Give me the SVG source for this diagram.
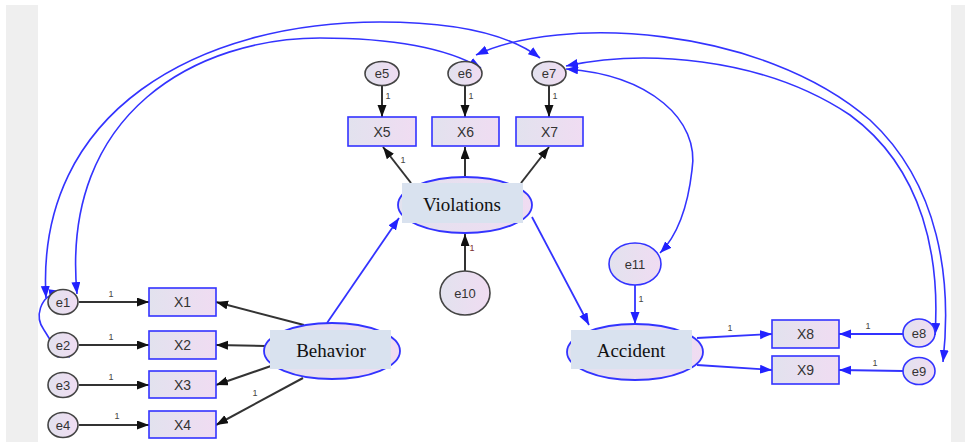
<svg xmlns="http://www.w3.org/2000/svg" width="965" height="442" viewBox="0 0 965 442">
<style>
.bk{stroke:#333;stroke-width:2;fill:none;marker-end:url(#ak)}
.bl{stroke:#3333ff;stroke-width:1.8;fill:none;marker-end:url(#ab)}
.cv{stroke:#3333ff;stroke-width:1.6;fill:none;marker-start:url(#ab);marker-end:url(#ab)}
.eg{fill:url(#gf);stroke:#444;stroke-width:1.6}
.eb{fill:url(#gf);stroke:#3333ff;stroke-width:1.6}
.bx{fill:url(#gf);stroke:#3333ff;stroke-width:1.6}
.lat{fill:url(#gf);stroke:#3333ff;stroke-width:1.8}
.lr{fill:#d9e2ef}
.t{font-family:"Liberation Sans",Arial,sans-serif;font-size:13px;fill:#333;text-anchor:middle;dominant-baseline:central}
.tx{font-family:"Liberation Sans",Arial,sans-serif;font-size:14px;fill:#333;text-anchor:middle;dominant-baseline:central}
.one{font-family:"Liberation Sans",Arial,sans-serif;font-size:9px;fill:#444;text-anchor:middle}
.lt{font-family:"Liberation Serif","Times New Roman",serif;font-size:19px;fill:#111;text-anchor:middle;dominant-baseline:central}
</style>
<defs>
<linearGradient id="gf" x1="0" y1="0" x2="1" y2="0">
<stop offset="0" stop-color="#e2e2ee"/>
<stop offset="1" stop-color="#f0dcf2"/>
</linearGradient>
<marker id="ak" markerUnits="userSpaceOnUse" markerWidth="13" markerHeight="10" refX="12" refY="4.5" orient="auto-start-reverse">
<path d="M0,0 L12,4.5 L0,9 z" fill="#111"/>
</marker>
<marker id="ab" markerUnits="userSpaceOnUse" markerWidth="13" markerHeight="10" refX="12" refY="4.5" orient="auto-start-reverse">
<path d="M0,0 L12,4.5 L0,9 z" fill="#2222ff"/>
</marker>
</defs>
<rect x="0" y="0" width="965" height="442" fill="#ffffff"/>
<rect x="6" y="5" width="32" height="437" fill="#efefef"/>
<rect x="951" y="5" width="14" height="437" fill="#efefef"/>

<g id="connectors">
<line class="bk" x1="79" y1="302" x2="149" y2="302"/>
<line class="bk" x1="79" y1="345" x2="149" y2="345"/>
<line class="bk" x1="79" y1="385" x2="149" y2="385"/>
<line class="bk" x1="79" y1="425" x2="149" y2="425"/>
<text class="one" x="111" y="297">1</text>
<text class="one" x="111" y="340">1</text>
<text class="one" x="111" y="380">1</text>
<text class="one" x="117" y="419">1</text>
<line class="bk" x1="304" y1="325" x2="216" y2="302"/>
<line class="bk" x1="265" y1="346" x2="216" y2="345"/>
<line class="bk" x1="271" y1="366" x2="216" y2="385"/>
<line class="bk" x1="303" y1="378" x2="216" y2="425"/>
<text class="one" x="255" y="396">1</text>
<line class="bk" x1="382" y1="86" x2="382" y2="117"/>
<line class="bk" x1="465" y1="86" x2="465" y2="117"/>
<line class="bk" x1="549" y1="86" x2="549" y2="117"/>
<text class="one" x="388" y="99">1</text>
<text class="one" x="471" y="99">1</text>
<text class="one" x="555" y="99">1</text>
<line class="bk" x1="411" y1="183" x2="383" y2="147"/>
<line class="bk" x1="465" y1="177" x2="465" y2="147"/>
<line class="bk" x1="521" y1="183" x2="549" y2="147"/>
<text class="one" x="403" y="163">1</text>
<line class="bk" x1="465" y1="271" x2="465" y2="234"/>
<text class="one" x="472" y="251" style="fill:#7a2e2e">1</text>
<line class="bl" x1="327" y1="323" x2="399" y2="218"/>
<line class="bl" x1="532" y1="217" x2="589" y2="325"/>
<line class="bl" x1="635" y1="285" x2="635" y2="324"/>
<text class="one" x="641" y="302">1</text>
<line class="bl" x1="697" y1="338" x2="772" y2="334"/>
<line class="bl" x1="697" y1="365" x2="772" y2="370"/>
<text class="one" x="730" y="331">1</text>
<line class="bl" x1="903" y1="334" x2="839" y2="334"/>
<line class="bl" x1="903" y1="371" x2="839" y2="370"/>
<text class="one" x="868" y="329">1</text>
<text class="one" x="875" y="366">1</text>
<path class="cv" d="M540,58 C510,35 460,22 380,22 C200,22 35,110 46,298"/>
<path class="cv" d="M481,68 C450,50 400,38 320,38 C200,38 60,110 77,294"/>
<path class="cv" d="M61,291 C38,296 35,318 44,330 C52,342 55,352 70,357"/>
<path class="cv" d="M476,55 C560,15 760,25 870,120 C940,185 952,280 943,362"/>
<path class="cv" d="M566,66 C640,50 760,55 850,115 C925,170 940,260 935,335"/>
<path class="cv" d="M566,69 C650,75 700,120 692,170 C688,205 678,235 660,253"/>
</g>

<g id="e1"><ellipse class="eg" cx="63" cy="302" rx="15" ry="12.5"/><text class="t" x="63" y="302">e1</text></g>
<g id="e2"><ellipse class="eg" cx="63" cy="345" rx="15" ry="12.5"/><text class="t" x="63" y="345">e2</text></g>
<g id="e3"><ellipse class="eg" cx="63" cy="385" rx="15" ry="12.5"/><text class="t" x="63" y="385">e3</text></g>
<g id="e4"><ellipse class="eg" cx="63" cy="425" rx="15" ry="12.5"/><text class="t" x="63" y="425">e4</text></g>

<g id="X1"><rect class="bx" x="149" y="288" width="67" height="28"/><text class="tx" x="182.5" y="302">X1</text></g>
<g id="X2"><rect class="bx" x="149" y="331" width="67" height="28"/><text class="tx" x="182.5" y="345">X2</text></g>
<g id="X3"><rect class="bx" x="149" y="371" width="67" height="27"/><text class="tx" x="182.5" y="385">X3</text></g>
<g id="X4"><rect class="bx" x="149" y="411" width="67" height="27"/><text class="tx" x="182.5" y="425">X4</text></g>

<g id="Behavior"><ellipse class="lat" cx="332" cy="351" rx="68" ry="28"/><rect class="lr" x="270" y="330" width="121" height="39"/><text class="lt" x="331" y="350">Behavior</text></g>

<g id="e5"><ellipse class="eg" cx="382" cy="73.5" rx="17" ry="12"/><text class="t" x="382" y="73.5">e5</text></g>
<g id="e6"><ellipse class="eg" cx="465" cy="73.5" rx="17" ry="12"/><text class="t" x="465" y="73.5">e6</text></g>
<g id="e7"><ellipse class="eg" cx="549" cy="73.5" rx="17" ry="12"/><text class="t" x="549" y="73.5">e7</text></g>

<g id="X5"><rect class="bx" x="348" y="117" width="68" height="29"/><text class="tx" x="382" y="131.5">X5</text></g>
<g id="X6"><rect class="bx" x="432" y="117" width="67" height="29"/><text class="tx" x="465.5" y="131.5">X6</text></g>
<g id="X7"><rect class="bx" x="516" y="117" width="67" height="29"/><text class="tx" x="549.5" y="131.5">X7</text></g>

<g id="Violations"><ellipse class="lat" cx="465" cy="205" rx="67" ry="28"/><rect class="lr" x="402" y="183" width="121" height="40"/><text class="lt" x="462" y="204">Violations</text></g>

<g id="e10"><ellipse class="eg" cx="465" cy="293" rx="25" ry="22"/><text class="t" x="465" y="293">e10</text></g>

<g id="e11"><ellipse class="eb" cx="635" cy="264" rx="26" ry="21"/><text class="t" x="635" y="264">e11</text></g>

<g id="Accident"><ellipse class="lat" cx="635" cy="352" rx="68" ry="28"/><rect class="lr" x="571" y="330" width="121" height="39"/><text class="lt" x="631" y="350">Accident</text></g>

<g id="X8"><rect class="bx" x="772" y="320" width="67" height="28"/><text class="tx" x="805.5" y="334">X8</text></g>
<g id="X9"><rect class="bx" x="772" y="356" width="67" height="28"/><text class="tx" x="805.5" y="370">X9</text></g>

<g id="e8"><ellipse class="eb" cx="919" cy="333" rx="16" ry="14"/><text class="t" x="919" y="333">e8</text></g>
<g id="e9"><ellipse class="eb" cx="919" cy="371" rx="16" ry="13.5"/><text class="t" x="919" y="371">e9</text></g>
</svg>
